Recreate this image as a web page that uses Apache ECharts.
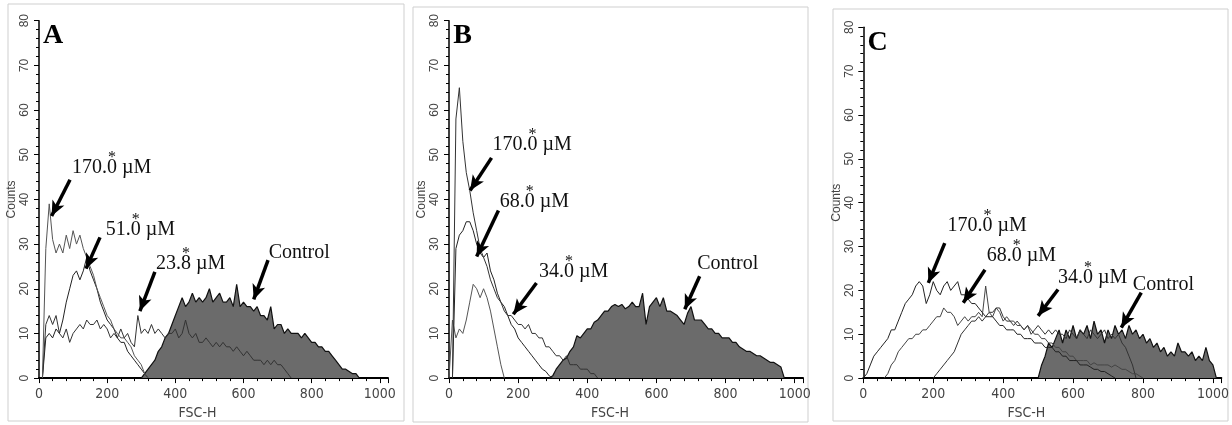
<!DOCTYPE html>
<html><head><meta charset="utf-8">
<script src="https://cdn.jsdelivr.net/npm/echarts@6/dist/echarts.min.js"></script>
<style>html,body{margin:0;padding:0;background:#fff}#c{width:1232px;height:425px}</style>
</head><body><div id="c"></div>
<script>
// ---------- data (FSC-H channel bins of width 10, counts) ----------
const binWidth = 10;
const xTicks = [0, 200, 400, 600, 800, 1000];
const yTicks = [0, 10, 20, 30, 40, 50, 60, 70, 80];
const panelLetters = ['A', 'B', 'C'];

// Panel A
const A_170_start = 10;
const A_170 = [0,29,39,31,28,30,28,32,29,33,30,32,29,27,25,23,20,18,16,14,13,11,10,9,9,8,7,5,4,3,1,0];
const A_51_start = 10;
const A_51 = [0,9,10,9,11,10,13,17,20,23,24,22,24,27,24,22,20,17,15,13,12,11,9,8,8,6,5,4,3,2,1,0];
const A_238_start = 10;
const A_238 = [0,12,14,12,14,10,9,11,8,10,11,12,11,13,12,12,13,11,12,11,9,10,9,11,9,10,8,7,14,10,11,10,12,10,11,10,9,10,10,11,9,10,13,10,9,10,8,8,9,8,7,8,7,8,7,7,6,7,6,5,6,5,4,4,4,3,4,3,4,3,3,2,1,0];
const A_ctrl_start = 300;
const A_ctrl = [0,1,2,3,4,6,7,9,10,12,14,16,18,16,17,19,17,18,17,18,20,17,18,19,17,17,18,16,21,16,17,16,16,15,16,14,14,13,16,11,12,12,10,11,10,10,10,9,10,9,8,8,7,7,6,6,5,4,3,2,2,1.5,1,1,0];

// Panel B
const B_170_start = 10;
const B_170 = [0,58,65,53,46,42,37,33,29,27,25,22,20,18,17,15,14,14,13,12,12,11,12,10,10,9,9,7,7,6,5,5,4,5,3,3,3,2,2,2,1,1,0];
const B_68_start = 10;
const B_68 = [0,29,32,33,35,35,33,30,28,27,28,24,22,19,17,16,14,12,11,9,8,7,6,5,4,3,2,1.5,0.5,0];
const B_34_start = 0;
const B_34 = [0,13,9,11,10,13,17,21,20,18,20,18,15,11,7,3,0];
const B_ctrl_start = 290;
const B_ctrl = [0,0.5,2,3,4,4.5,6,7,9.5,9,10,11,11,12.5,13,14,15,15,16,16.5,16,16.5,15.5,16,17,16,16,19,12,16,17,18,16,18,15,15,14.5,14,13,12,14.5,16,13,13,13,12,11,11,10,10,9,9,9,8,8,7,6.5,6,6,5.5,5,5,4.5,4,3.5,3.5,3,2.5,0];

// Panel C
const C_170_start = 0;
const C_170 = [0,1,3,5,6,7,8,9,11,11,13,15,17,18,19,21,22,21,17,19,22,20,19,21,22,20,21,22,19,19,18,17,17,16,15,14,14,14,13,12,12,11,11,11,10,10,9,9,9,8,8,8,7,7,7,6,6,5,5,4,4,4,3,3,3,2.5,2,2,1.5,1.5,1,0.5,0];
const C_68_start = 60;
const C_68 = [0,1,3,4,6,7,8,9,9,10,10,11,11,12,13,14,14,16,15,15,14,12,13,14,13,14,14,15,14,21,15,14,16,15,13,14,13,13,12,12,11,12,11,10,10,9,9,8,8,7,7,6,6,5,5,4,4,4,4,3,3.5,3,3,3,3,2.5,3,2.5,2,2,1.5,1,1,0.5,0];
const C_34_start = 200;
const C_34 = [0,1,2,3,4,5,6,8,10,11,12,13,13,14,13,14,15,15,16,16,14,13,13,12,13,12,11,12,10,11,12,11,10,11,10,11,10,10,9,11,10,9,11,10,9,11,10,9,10,11,9,10,9,10,8,7,5,3,0];
const C_ctrl_start = 500;
const C_ctrl = [0,3,5,8,7,9,11,8,11,9,12,9,11,10,12,9,13,10,11,8,11,9,12,10,11,9,12,10,11,9,10,8,9,7,8,6,7,5,6,5,8,6,6,5,6,4,5,4,7,4,3,0];

// annotation texts and arrows (data coordinates of each panel)
const labels = [
  [ {t:'170.0 \u00b5M', x:97, y:47.0}, {t:'51.0 \u00b5M', x:196, y:33.2}, {t:'23.8 \u00b5M', x:343, y:25.5}, {t:'Control', x:674, y:28.0} ],
  [ {t:'170.0 \u00b5M', x:126, y:52.3}, {t:'68.0 \u00b5M', x:147, y:39.5}, {t:'34.0 \u00b5M', x:260, y:23.8}, {t:'Control', x:718, y:25.5} ],
  [ {t:'170.0 \u00b5M', x:241, y:34.7}, {t:'68.0 \u00b5M', x:353, y:28.0}, {t:'34.0 \u00b5M', x:557, y:22.8}, {t:'Control', x:771, y:21.2} ]
];
const arrows = [
  [ [[91,44.4],[37,36.3]], [[179,31.5],[138,24.5]], [[340,23.8],[296,15]], [[672,26.4],[630,17.6]] ],
  [ [[123,49.3],[61,42]], [[143,37.5],[80,27.2]], [[253,21.3],[186,14.3]], [[725,22.8],[682,15.4]] ],
  [ [[233,30.8],[186,21.7]], [[348,24.7],[286,17.2]], [[557,20.2],[500,14.2]], [[795,19.5],[738,11.5]] ]
];

// ---------- layout ----------
const grids = [
  {left:39, top:20.7, width:349, height:362},
  {left:449, top:20.7, width:354, height:362.6},
  {left:863.3, top:27.3, width:358, height:353.7}
];
const boxes = [
  {x:8, y:4, width:396, height:417},
  {x:413, y:7, width:395, height:415},
  {x:833, y:9, width:395, height:412}
];

function pts(start, arr){ return arr.map((v,i)=>[start + i*binWidth, v]); }

const panels = [
  {ctrl:[A_ctrl_start,A_ctrl], lines:[[A_238_start,A_238,'#333'],[A_51_start,A_51,'#222'],[A_170_start,A_170,'#555']]},
  {ctrl:[B_ctrl_start,B_ctrl], lines:[[B_34_start,B_34,'#555'],[B_68_start,B_68,'#222'],[B_170_start,B_170,'#333']]},
  {ctrl:[C_ctrl_start,C_ctrl], lines:[[C_34_start,C_34,'#333'],[C_68_start,C_68,'#444'],[C_170_start,C_170,'#222']]}
];

const narrow = '"Liberation Sans Narrow","DejaVu Sans Condensed","Liberation Sans",sans-serif';
const xAxes = [], yAxes = [], series = [];
grids.forEach((g,i)=>{
  xAxes.push({
    gridIndex:i, type:'value', min:0, max:1024, interval:200,
    name:'FSC-H', nameLocation:'middle', nameGap:24,
    nameTextStyle:{fontFamily:narrow, fontSize:14, color:'#444', padding:[0,32,0,0]},
    axisLine:{lineStyle:{color:'#000', width:2}},
    axisTick:{show:true, length:5, lineStyle:{color:'#000', width:1}},
    minorTick:{show:true, splitNumber:5, length:3, lineStyle:{color:'#000', width:1}},
    splitLine:{show:false},
    axisLabel:{fontFamily:narrow, fontSize:14, color:'#444', margin:9,
      formatter:v=> xTicks.indexOf(v) >= 0 ? String(v) : ''}
  });
  yAxes.push({
    gridIndex:i, type:'value', min:0, max:80, interval:10,
    name:'Counts', nameLocation:'middle', nameRotate:90, nameGap:20,
    nameTextStyle:{fontFamily:'"Liberation Sans",sans-serif', fontSize:12, color:'#444'},
    axisLine:{show:true, lineStyle:{color:'#000', width:1.5}},
    axisTick:{show:true, length:5, lineStyle:{color:'#000', width:1}},
    minorTick:{show:true, splitNumber:5, length:3, lineStyle:{color:'#000', width:1}},
    splitLine:{show:false},
    axisLabel:{fontFamily:'"Liberation Sans",sans-serif', fontSize:12, color:'#444', rotate:90, margin:8,
      formatter:v=> yTicks.indexOf(v) >= 0 ? String(v) : ''}
  });
  const p = panels[i];
  series.push({
    type:'line', xAxisIndex:i, yAxisIndex:i, showSymbol:false, z:2,
    data:pts(p.ctrl[0], p.ctrl[1]),
    lineStyle:{color:'#111', width:1.2},
    areaStyle:{color:'#6b6b6b', opacity:1}
  });
  p.lines.forEach(l=>{
    series.push({
      type:'line', xAxisIndex:i, yAxisIndex:i, showSymbol:false, z:3,
      data:pts(l[0], l[1]), lineStyle:{color:l[2], width:1}
    });
  });
  series.push({
    type:'line', xAxisIndex:i, yAxisIndex:i, data:[], z:5,
    markLine:{silent:true, symbol:['none','arrow'], symbolSize:[10,15], animation:false,
      lineStyle:{color:'#000', width:3.5, type:'solid'}, label:{show:false},
      data: arrows[i].map(a=>[{coord:a[0]},{coord:a[1]}])}
  });
});

const chart = echarts.init(document.getElementById('c'), null, {renderer:'canvas'});
chart.setOption({
  animation:false,
  backgroundColor:'#fff',
  grid: grids.map(g=>Object.assign({containLabel:false}, g)),
  xAxis:xAxes, yAxis:yAxes, series:series
});

// ---------- annotations placed through the axes ----------
const serif = '"Liberation Serif","Times New Roman",serif';
const ctx = document.createElement('canvas').getContext('2d');
ctx.font = '20px "Liberation Serif"';
const graphic = [];
boxes.forEach(b=>graphic.push({type:'rect', shape:b, style:{fill:'none', stroke:'#cfcfcf', lineWidth:1}, z:0, silent:true}));
grids.forEach((g,i)=>{
  const lp = chart.convertToPixel({gridIndex:i}, [12, 79.7]);
  graphic.push({type:'text', x:lp[0], y:lp[1], z:10,
    style:{text:panelLetters[i], font:'bold 28px '+serif, fill:'#000', textAlign:'left', textVerticalAlign:'top'}});
  labels[i].forEach(L=>{
    const p = chart.convertToPixel({gridIndex:i}, [L.x, L.y]);
    graphic.push({type:'text', x:p[0], y:p[1], z:10,
      style:{text:L.t, font:'20px '+serif, fill:'#111', textAlign:'left', textVerticalAlign:'middle'}});
    const sp = L.t.indexOf(' ');
    if (sp > 0) {
      const pre = L.t.slice(0, sp-1), ch = L.t.charAt(sp-1);
      const sx = p[0] + ctx.measureText(pre).width + ctx.measureText(ch).width/2;
      graphic.push({type:'text', x:sx, y:p[1]-10, z:10,
        style:{text:'*', font:'16px '+serif, fill:'#111', textAlign:'center', textVerticalAlign:'middle'}});
    }
  });
});
chart.setOption({graphic:graphic});
</script></body></html>
